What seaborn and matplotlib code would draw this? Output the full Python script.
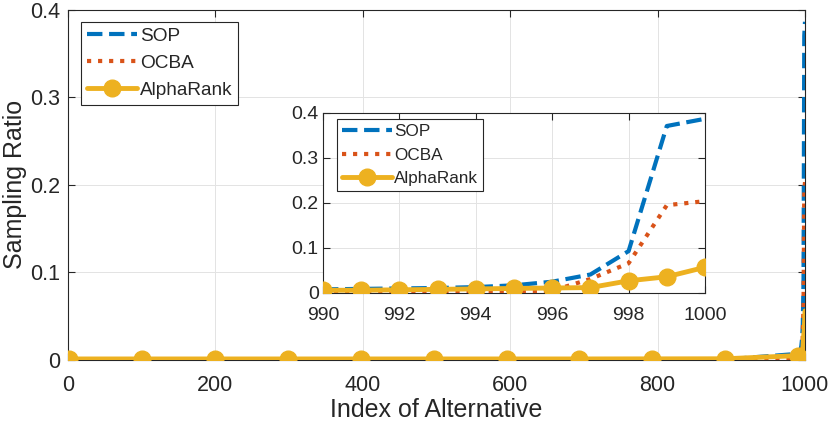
import numpy as np
import pandas as pd
import seaborn as sns
import matplotlib.pyplot as plt

# sampled alternatives in the long flat part (marker positions)
early_idx = [1, 100, 199, 298, 397, 496, 595, 694, 793, 892]
early_sop = [0.0004, 0.0004, 0.0004, 0.0004, 0.0004, 0.0004, 0.0004, 0.0005, 0.0005, 0.0006]
early_ocba = [0.0001, 0.0001, 0.0001, 0.0001, 0.0001, 0.0001, 0.0001, 0.0001, 0.0001, 0.0001]
early_alpha = [0.0012, 0.0012, 0.0012, 0.0012, 0.0012, 0.0012, 0.0012, 0.0012, 0.0013, 0.0014]

# last eleven alternatives (zoomed part)
tail_idx = [990, 991, 992, 993, 994, 995, 996, 997, 998, 999, 1000]
tail_sop = [0.007, 0.008, 0.009, 0.010, 0.012, 0.016, 0.024, 0.040, 0.092, 0.370, 0.386]
tail_ocba = [0.002, 0.002, 0.002, 0.002, 0.002, 0.002, 0.004, 0.030, 0.065, 0.194, 0.203]
tail_alpha = [0.005, 0.005, 0.006, 0.007, 0.008, 0.009, 0.010, 0.011, 0.026, 0.035, 0.056]

c_sop = "#0072BD"
c_ocba = "#D95319"
c_alpha = "#EDB120"
ink = "#262626"

sns.set_theme(style="ticks")
plt.rcParams["font.family"] = ["Liberation Sans", "DejaVu Sans"]
plt.rcParams["text.color"] = ink
plt.rcParams["axes.labelcolor"] = ink
plt.rcParams["xtick.color"] = ink
plt.rcParams["ytick.color"] = ink

df_main = pd.DataFrame({
    "idx": early_idx + tail_idx,
    "SOP": early_sop + tail_sop,
    "OCBA": early_ocba + tail_ocba,
    "AlphaRank": early_alpha + tail_alpha,
})
df_tail = pd.DataFrame({"idx": tail_idx, "SOP": tail_sop,
                        "OCBA": tail_ocba, "AlphaRank": tail_alpha})

fig = plt.figure(figsize=(8.31, 4.24), dpi=100)
ax = fig.add_axes([68 / 831, 1 - 360 / 424, 737 / 831, 350.5 / 424])
ins = fig.add_axes([323 / 831, 1 - 292.5 / 424, 382 / 831, 180 / 424])


def draw(a, df, mark_at, fs_leg, anchor, hl, ls):
    sns.lineplot(data=df, x="idx", y="SOP", ax=a, color=c_sop, lw=3,
                 linestyle="--", label="SOP", zorder=3)
    sns.lineplot(data=df, x="idx", y="OCBA", ax=a, color=c_ocba, lw=3,
                 linestyle=":", label="OCBA", zorder=3)
    sns.lineplot(data=df, x="idx", y="AlphaRank", ax=a, color=c_alpha, lw=3.5,
                 marker="o", markersize=12, markeredgewidth=1,
                 markeredgecolor=c_alpha, markevery=mark_at,
                 label="AlphaRank", zorder=4)
    a.grid(True, color="#e3e3e3", lw=0.7)
    a.set_axisbelow(True)
    for s in a.spines.values():
        s.set_visible(True)
        s.set_color(ink)
        s.set_linewidth(0.8)
    a.tick_params(direction="in", top=True, right=True, length=5, width=0.8)
    leg = a.legend(loc="upper left", bbox_to_anchor=anchor, borderaxespad=0,
                   fontsize=fs_leg, fancybox=False, framealpha=1,
                   edgecolor=ink, handlelength=hl, handletextpad=0.15,
                   labelspacing=ls, borderpad=0.3)
    leg.get_frame().set_linewidth(0.8)


draw(ax, df_main, [0, 1, 2, 3, 4, 5, 6, 7, 8, 9, 11], 13.7, (0.0176, 0.964), 2.65, 0.5)
ax.set_xlim(0, 1000)
ax.set_ylim(0, 0.4)
ax.set_xticks([0, 200, 400, 600, 800, 1000])
ax.set_yticks([0, 0.1, 0.2, 0.3, 0.4])
ax.set_yticklabels(["0", "0.1", "0.2", "0.3", "0.4"])
ax.tick_params(axis="x", labelsize=15.5, pad=10.5)
ax.tick_params(axis="y", labelsize=15.5, pad=5.5)
ax.set_xlabel("Index of Alternative", fontsize=18, labelpad=2)
ax.set_ylabel("Sampling Ratio", fontsize=18, labelpad=2)

draw(ins, df_tail, None, 12.3, (0.0366, 0.964), 2.9, 0.5)
ins.set_xlim(990, 1000)
ins.set_ylim(0, 0.4)
ins.set_xticks([990, 992, 994, 996, 998, 1000])
ins.set_yticks([0, 0.1, 0.2, 0.3, 0.4])
ins.set_yticklabels(["0", "0.1", "0.2", "0.3", "0.4"])
ins.tick_params(axis="x", labelsize=14, pad=10.5)
ins.tick_params(axis="y", labelsize=14, pad=3)
ins.set_xlabel("")
ins.set_ylabel("")

fig.savefig("out.png", dpi=100)
